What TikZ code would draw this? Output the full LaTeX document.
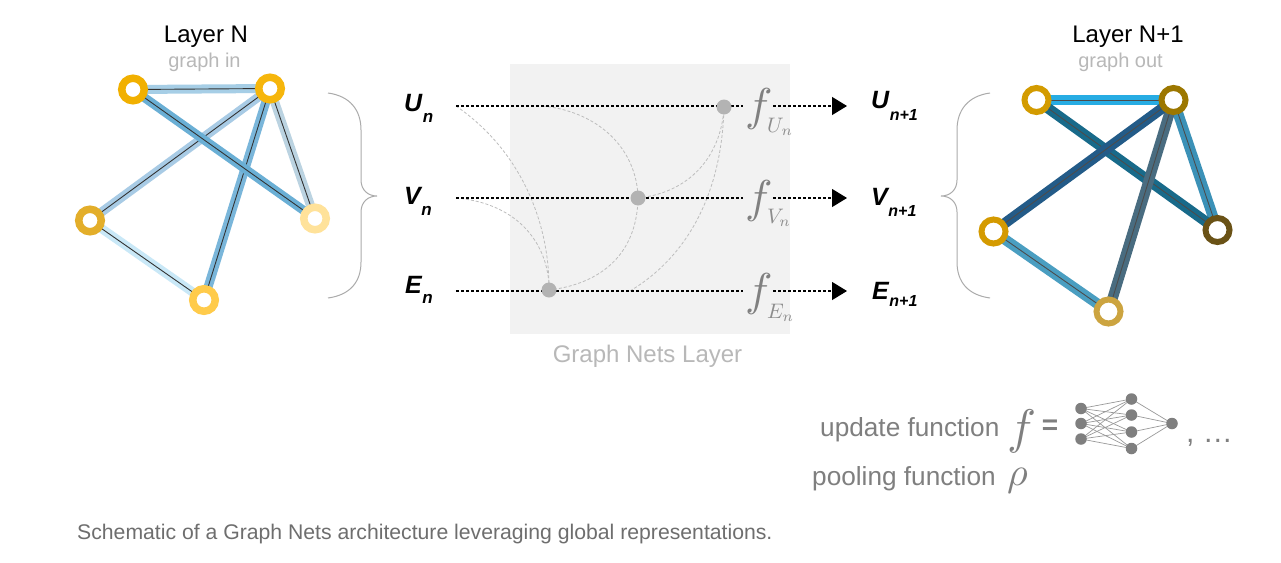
\documentclass[tikz,border=0pt]{standalone}
\usepackage{graphicx}
\usepackage{fontspec}
\setmainfont{Liberation Sans}
\usetikzlibrary{arrows.meta}
\pgfdeclarelayer{bg}
\pgfdeclarelayer{paper}
\pgfsetlayers{paper,bg,main}
\newcommand\myfs[1]{\fontsize{#1}{#1}\selectfont}
% left graph colours
\definecolor{lnA}{HTML}{F1B000}
\definecolor{lnB}{HTML}{F6B60C}
\definecolor{lnC}{HTML}{E3AE2A}
\definecolor{lnD}{HTML}{FFCB4B}
\definecolor{lnE}{HTML}{FFE29A}
\definecolor{leAB}{HTML}{A6CEE6}
\definecolor{leAE}{HTML}{6AAFD5}
\definecolor{leBC}{HTML}{A8CBE5}
\definecolor{leBD}{HTML}{7AB6DA}
\definecolor{leBE}{HTML}{BBD3E1}
\definecolor{leCD}{HTML}{C9E8F7}
% right graph colours
\definecolor{rnA}{HTML}{D39B00}
\definecolor{rnB}{HTML}{9C7700}
\definecolor{rnC}{HTML}{D49A00}
\definecolor{rnD}{HTML}{CCA440}
\definecolor{rnE}{HTML}{6A5216}
\definecolor{reAB}{HTML}{27ACE3}
\definecolor{reAE}{HTML}{186A8A}
\definecolor{reBC}{HTML}{235B88}
\definecolor{reBD}{HTML}{496C80}
\definecolor{reBE}{HTML}{3B91B7}
\definecolor{reCD}{HTML}{4A9EC1}
% greys
\definecolor{panel}{HTML}{F2F2F2}
\definecolor{dotgrey}{HTML}{B3B3B3}
\definecolor{curvegrey}{HTML}{BDBDBD}
\definecolor{lightlab}{HTML}{B8B8B8}
\definecolor{fgrey}{HTML}{808080}
\definecolor{midgrey}{HTML}{7F7F7F}
\definecolor{capgrey}{HTML}{6E6E6E}
\definecolor{bracegrey}{HTML}{ABABAB}
\begin{document}
\begin{tikzpicture}[x=1pt,y=-1pt,
  lnode/.style={circle,minimum size=22.5pt,inner sep=0pt,line width=7.5pt,fill=white,draw=#1},
  rnode/.style={circle,minimum size=24pt,inner sep=0pt,line width=6pt,fill=white,draw=#1},
  lband/.style={line width=9pt,draw=#1},
  rband/.style={line width=10.5pt,draw=#1},
  lcore/.style={line width=0.9pt,draw=black!80},
  rcore/.style={line width=0.9pt,draw=black!70},
  dotline/.style={line width=1.2pt,dash pattern=on 3pt off 2pt,draw=black},
  gcurve/.style={line width=0.8pt,dash pattern=on 3pt off 2pt,draw=curvegrey},
  gdot/.style={circle,minimum size=15pt,inner sep=0pt,fill=dotgrey},
  nnode/.style={circle,minimum size=11.5pt,inner sep=0pt,fill=midgrey},
  nnline/.style={line width=0.7pt,draw=black!40},
  brace/.style={line width=1pt,draw=bracegrey},
  inlab/.style={inner sep=0pt,anchor=base west,font=\myfs{25}\bfseries\itshape},
  flab/.style={inner sep=0pt,anchor=base west,text=fgrey,font=\myfs{10}},
  fsub/.style={inner sep=0pt,anchor=base west,text=fgrey!90,font=\myfs{10}},
  toparrow/.style={dotline,-{Triangle[length=15pt,width=18pt]}}
]
\useasboundingbox (0,0) rectangle (1281,562);
\begin{pgfonlayer}{paper}
  \fill[white] (0,0) rectangle (1281,562);
\end{pgfonlayer}

% ---------- titles ----------
\node[inner sep=0pt,anchor=base,font=\myfs{24}] (tl) at (206,42) {Layer N};
\node[inner sep=0pt,anchor=base,font=\myfs{20},text=lightlab] (tls) at (204.5,67) {graph in};
\node[inner sep=0pt,anchor=base,font=\myfs{24}] (tr) at (1128,42) {Layer N+1};
\node[inner sep=0pt,anchor=base,font=\myfs{20},text=lightlab] (trs) at (1120.5,67) {graph out};

% ---------- left graph ----------
\node[lnode=lnA] (A) at (133,89.5) {};
\node[lnode=lnB] (B) at (270,88.5) {};
\node[lnode=lnC] (C) at (90,220.5) {};
\node[lnode=lnD] (D) at (204,300) {};
\node[lnode=lnE] (E) at (315,218.5) {};
\begin{pgfonlayer}{bg}
  \foreach \p/\q/\c in {A/B/leAB, B/C/leBC, B/E/leBE, C/D/leCD, B/D/leBD, A/E/leAE}{
    \draw[lband=\c] (\p.center) -- (\q.center);
    \draw[lcore] (\p.center) -- (\q.center);
  }
\end{pgfonlayer}

% ---------- right graph ----------
\node[rnode=rnA] (RA) at (1036.5,100) {};
\node[rnode=rnB] (RB) at (1173.5,100) {};
\node[rnode=rnC] (RC) at (993.5,231.5) {};
\node[rnode=rnD] (RD) at (1108.5,311.5) {};
\node[rnode=rnE] (RE) at (1217.5,230) {};
\begin{pgfonlayer}{bg}
  \foreach \p/\q/\c in {RA/RB/reAB, RB/RE/reBE, RC/RD/reCD, RA/RE/reAE, RB/RD/reBD, RB/RC/reBC}{
    \draw[rband=\c] (\p.center) -- (\q.center);
    \draw[rcore] (\p.center) -- (\q.center);
  }
\end{pgfonlayer}

% ---------- braces ----------
\draw[brace] (328,93) .. controls (350,96) and (361,110) .. (361,130) -- (361,180)
  .. controls (361,190) and (368,196) .. (377,196)
  .. controls (368,196) and (361,202) .. (361,212) -- (361,262)
  .. controls (361,282) and (350,295) .. (328,298);
\draw[brace] (990,93) .. controls (968,96) and (957,110) .. (957,130) -- (957,180)
  .. controls (957,190) and (950,196) .. (941,196)
  .. controls (950,196) and (957,202) .. (957,212) -- (957,262)
  .. controls (957,282) and (968,295) .. (990,298);

% ---------- graph nets layer panel ----------
\fill[panel] (509.5,64) rectangle (789.5,333.5);
\node[inner sep=0pt,anchor=base,font=\myfs{24},text=lightlab] (gnl) at (647.5,362) {Graph Nets Layer};

% input labels
\node[inlab] (Un) at (404,111) {U\kern0.5pt\raisebox{-11pt}{\myfs{17}n}};
\node[inlab] (Vn) at (404,204) {V\kern0.5pt\raisebox{-11pt}{\myfs{17}n}};
\node[inlab] (En) at (405,293) {E\kern0.5pt\raisebox{-10pt}{\myfs{17}n}};
% output labels
\node[inlab] (Uo) at (871,108) {U\kern0.5pt\raisebox{-12pt}{\myfs{16}n+1}};
\node[inlab] (Vo) at (871,205) {V\kern0.5pt\raisebox{-11pt}{\myfs{16}n+1}};
\node[inlab] (Eo) at (872,299) {E\kern0.5pt\raisebox{-7pt}{\myfs{16}n+1}};

% coordinates on the lines
\coordinate (uS) at (456,106); \coordinate (uF) at (743,106);
\coordinate (uR) at (773,106); \coordinate (uT) at (847,106);
\coordinate (vS) at (456,198); \coordinate (vF) at (743,198);
\coordinate (vR) at (773,198); \coordinate (vT) at (847,198);
\coordinate (eS) at (456,291); \coordinate (eF) at (743,291);
\coordinate (eR) at (773,291); \coordinate (eT) at (847,291);
\coordinate (uM) at (543,106);
\coordinate (eM) at (630,291);

% gray dashed curves
\draw[gcurve] (uS) .. controls (520,150) and (548,220) .. (549,284);
\draw[gcurve] (vS) .. controls (515,203) and (546,240) .. (549,284);
\draw[gcurve] (549,290) .. controls (600,284) and (637,255) .. (638,198);
\draw[gcurve] (uM) .. controls (600,112) and (637,150) .. (638,198);
\draw[gcurve] (638,198) .. controls (695,192) and (722,150) .. (724,107);
\draw[gcurve] (eM) .. controls (690,255) and (722,190) .. (724,107);

% black dotted lines
\draw[dotline] (uS) -- (uF);
\draw[dotline] (vS) -- (vF);
\draw[dotline] (eS) -- (eF);
\draw[toparrow] (uR) -- (uT);
\draw[toparrow] (vR) -- (vT);
\draw[toparrow] (eR) -- (eT);

% dots
\node[gdot] (dU) at (724,107) {};
\node[gdot] (dV) at (638,198) {};
\node[gdot] (dE) at (549,290) {};

% f labels
\node[flab] (fU) at (745,120.5) {\scalebox{4.6}{$f$}};
\node[fsub] (fUs) at (767,132) {\scalebox{2.1}{$U_n$}};
\node[flab] (fV) at (745,212.5) {\scalebox{4.6}{$f$}};
\node[fsub] (fVs) at (767,223) {\scalebox{2.1}{$V_n$}};
\node[flab] (fE) at (745,305.5) {\scalebox{4.6}{$f$}};
\node[fsub] (fEs) at (767,318) {\scalebox{2.1}{$E_n$}};

% ---------- legend ----------
\node[inner sep=0pt,anchor=base west,font=\myfs{26.2},text=midgrey] (upd) at (820,436) {update function};
\node[inner sep=0pt,anchor=base west,font=\myfs{26.2},text=midgrey] (pool) at (812,485) {pooling function};
\node[inner sep=0pt,anchor=base west,font=\myfs{10},text=midgrey] (bigf) at (1007,443.5) {\scalebox{4.85}{$f$}};
\node[inner sep=0pt,font=\myfs{28}\bfseries,text=midgrey] (eq) at (1050,427.5) {=};
\node[inner sep=0pt,anchor=base west,font=\myfs{10},text=midgrey] (rho) at (1007,485) {\scalebox{4}{$\rho$}};
\node[inner sep=0pt,anchor=base west,font=\myfs{30},text=midgrey] (etc) at (1186,442) {,~…};

% small network
\node[nnode] (i1) at (1081,408.5) {};
\node[nnode] (i2) at (1081,423.5) {};
\node[nnode] (i3) at (1081,439) {};
\node[nnode] (h1) at (1131.5,399) {};
\node[nnode] (h2) at (1131.5,415) {};
\node[nnode] (h3) at (1131.5,432) {};
\node[nnode] (h4) at (1131.5,448.5) {};
\node[nnode] (o1) at (1172,423.5) {};
\begin{pgfonlayer}{bg}
  \foreach \i in {i1,i2,i3}{\foreach \h in {h1,h2,h3,h4}{\draw[nnline] (\i.center) -- (\h.center);}}
  \foreach \h in {h1,h2,h3,h4}{\draw[nnline] (\h.center) -- (o1.center);}
\end{pgfonlayer}

% caption
\node[inner sep=0pt,anchor=base west,font=\myfs{21.2},text=capgrey] (cap) at (77,539) {Schematic of a Graph Nets architecture leveraging global representations.};
\end{tikzpicture}
\end{document}
